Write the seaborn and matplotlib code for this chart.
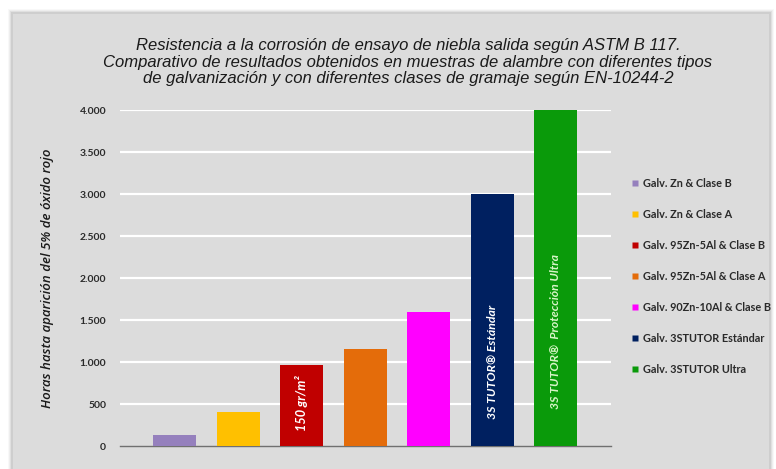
import matplotlib
matplotlib.use("Agg")
import matplotlib.pyplot as plt
import seaborn as sns
import pandas as pd
from matplotlib.patches import FancyBboxPatch
from matplotlib.lines import Line2D

categories = ["Galv. Zn & Clase B", "Galv. Zn & Clase A", "Galv. 95Zn-5Al & Clase B",
              "Galv. 95Zn-5Al & Clase A", "Galv. 90Zn-10Al & Clase B",
              "Galv. 3STUTOR Estándar", "Galv. 3STUTOR Ultra"]
hours = [130, 400, 970, 1155, 1600, 3000, 4000]
colors = ["#9580bd", "#ffc000", "#c00000", "#e46c0a", "#ff00ff", "#002060", "#0a9a0a"]
yticks = [0, 500, 1000, 1500, 2000, 2500, 3000, 3500, 4000]
ytick_labels = ["0", "500", "1.000", "1.500", "2.000", "2.500", "3.000", "3.500", "4.000"]
title = ("Resistencia a la corrosión de ensayo de niebla salida según ASTM B 117.\n"
         "Comparativo de resultados obtenidos en muestras de alambre con diferentes tipos\n"
         "de galvanización y con diferentes clases de gramaje según EN-10244-2")
ylabel = "Horas hasta aparición del 5% de óxido rojo"
bar_texts = {2: "150 gr/m²", 5: "3S TUTOR® Estándar", 6: "3S TUTOR®  Protección Ultra"}

sns.set_theme(style="white")
title_font = ["Liberation Sans", "DejaVu Sans"]
bold_font = ["Lato", "DejaVu Sans"]

df = pd.DataFrame({"cat": categories, "hours": hours})

fig = plt.figure(figsize=(7.76, 4.69), dpi=100)
fig.patch.set_facecolor("white")
W, H = 776, 469

# panel with shadow
for i, a in enumerate([0.05, 0.08, 0.12, 0.18]):
    off = 4 - i
    fig.patches.append(FancyBboxPatch(((12 - off) / W, 0), (758 + 2 * off) / W, (456 + off) / H,
                                      boxstyle="square,pad=0", transform=fig.transFigure,
                                      facecolor="#808080", edgecolor="none", alpha=a, zorder=-5))
fig.patches.append(FancyBboxPatch((13 / W, 0), 756 / W, 455 / H, boxstyle="square,pad=0",
                                  transform=fig.transFigure, facecolor="#dcdcdc",
                                  edgecolor="none", zorder=-4))

ax = fig.add_axes([120 / W, 23 / H, 491 / W, 336 / H])
ax.set_facecolor("none")
sns.barplot(data=df, x="cat", y="hours", hue="cat", palette=colors, dodge=False,
            width=0.68, legend=False, ax=ax, zorder=3, saturation=1, linewidth=0)
ax.set_xlim(-0.86, 6.87)
ax.set_ylim(0, 4000)
ax.set_yticks(yticks)
ax.set_yticklabels(ytick_labels, fontsize=7.5, fontweight="bold", color="#2a2a2a", family=bold_font)
ax.tick_params(axis="y", length=0, pad=10)
ax.set_xticks([])
ax.set_xlabel("")
ax.set_ylabel(ylabel, fontsize=9.5, style="italic", fontweight="semibold", color="#1a1a1a",
              family=["Open Sans", "DejaVu Sans"], labelpad=18)
for y in yticks[1:]:
    ax.axhline(y, color="white", lw=1.6, zorder=1)
for s in ["top", "right", "left"]:
    ax.spines[s].set_visible(False)
ax.spines["bottom"].set_color("#707070")
ax.spines["bottom"].set_linewidth(1.0)

# texts in bars
ax.text(2, 510, bar_texts[2], rotation=90, ha="center", va="center", color="white",
        fontsize=9.2, fontweight="bold", style="italic", family=bold_font, zorder=5)
ax.text(5, 1000, bar_texts[5], rotation=90, ha="center", va="center", color="white",
        fontsize=8.8, fontweight="bold", style="italic", family=bold_font, zorder=5)
ax.text(6, 1360, bar_texts[6], rotation=90, ha="center", va="center", color="#d8f5c8",
        fontsize=8.8, fontweight="bold", style="italic", family=bold_font, zorder=5)

fig.text(408 / W, 1 - 62 / H, title, ha="center", va="center", fontsize=12, style="italic",
         color="#1a1a1a", family=title_font, linespacing=1.15)

handles = [Line2D([0], [0], marker="s", color="none", markerfacecolor=c, markeredgecolor="none",
                  markersize=5) for c in colors]
leg = fig.legend(handles, categories, loc="upper left", bbox_to_anchor=(622 / W, 1 - 168 / H),
                 frameon=False, labelspacing=1.85, handlelength=0.6, handletextpad=0.4,
                 prop={"family": bold_font, "weight": "bold", "size": 7.8})
for t in leg.get_texts():
    t.set_color("#2a2a2a")

fig.savefig("out.png", dpi=100)
